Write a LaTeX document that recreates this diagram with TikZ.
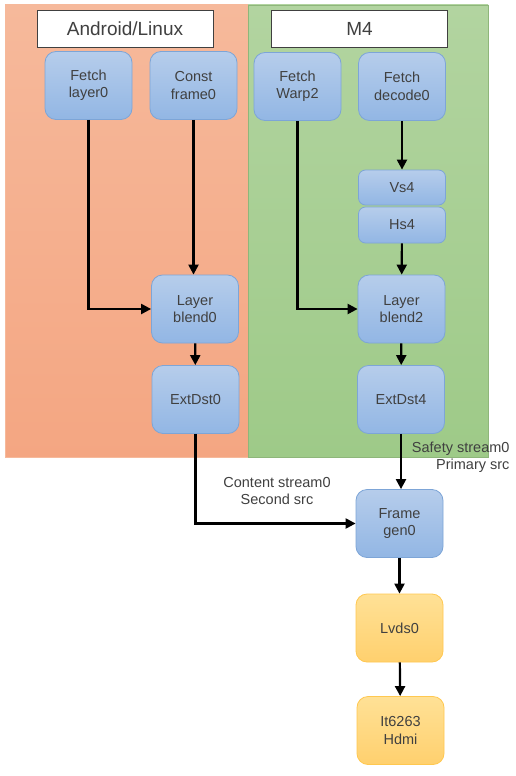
\documentclass[tikz,border=0pt]{standalone}
\usepackage{fontspec}
\setmainfont{Liberation Sans}
\usetikzlibrary{arrows.meta}
\definecolor{txtgray}{RGB}{64,64,64}
\definecolor{blueedge}{RGB}{125,165,215}
\definecolor{bluetop}{RGB}{182,205,235}
\definecolor{bluebot}{RGB}{146,182,228}
\definecolor{ambedge}{RGB}{255,200,80}
\definecolor{ambtop}{RGB}{255,225,150}
\definecolor{ambbot}{RGB}{255,208,110}
\definecolor{andtop}{RGB}{246,185,155}
\definecolor{andbot}{RGB}{244,166,130}
\definecolor{mtop}{RGB}{178,212,160}
\definecolor{mbot}{RGB}{158,202,136}
\begin{document}
\begin{tikzpicture}[x=1pt,y=-1pt,
  blk/.style={draw=blueedge,line width=0.8pt,rounded corners=11pt,top color=bluetop,bottom color=bluebot,
    minimum width=87pt,minimum height=68pt,align=center,text=txtgray,font=\fontsize{14.5}{17.5}\selectfont},
  thinblk/.style={blk,minimum height=36pt,rounded corners=7pt},
  outblk/.style={blk,draw=ambedge,top color=ambtop,bottom color=ambbot},
  hdr/.style={draw=black!75,line width=0.8pt,fill=white,minimum width=176pt,minimum height=37pt,
    text=txtgray,font=\fontsize{19}{22}\selectfont},
  lbl/.style={text=txtgray,font=\fontsize{14.5}{17}\selectfont},
  flow/.style={line width=2.2pt,-{Triangle[width=10pt,length=10pt]}}]
\useasboundingbox (0,0) rectangle (515,776);
\fill[white] (0,0) rectangle (515,776);
\shade[top color=andtop,bottom color=andbot,draw=andtop] (5,5) rectangle (248,457);
\shade[top color=mtop,bottom color=mbot,draw=mbot!90!black] (248,5) rectangle (488,457);
\node[hdr] (andhdr) at (125,28.5) {Android/Linux};
\node[hdr] (mhdr) at (359.5,28.5) {M4};
\node[blk] (fetchL) at (88.5,85.5) {Fetch\\layer0};
\node[blk] (constF) at (193.5,85.5) {Const\\frame0};
\node[blk] (fetchW) at (297.5,86.5) {Fetch\\Warp2};
\node[blk] (fetchD) at (402,86.5) {Fetch\\decode0};
\node[thinblk,minimum height=35pt] (vs) at (402,187.5) {Vs4};
\node[thinblk] (hs) at (402,225) {Hs4};
\node[blk] (blendA) at (195,309) {Layer\\blend0};
\node[blk] (blendB) at (401.5,309) {Layer\\blend2};
\node[blk] (extA) at (195.5,399.5) {ExtDst0};
\node[blk] (extB) at (401,399.5) {ExtDst4};
\node[blk] (frame) at (399.5,523.5) {Frame\\gen0};
\node[outblk] (lvds) at (399.5,628) {Lvds0};
\node[outblk] (hdmi) at (400.5,730.5) {It6263\\Hdmi};
\draw[flow] (fetchL.south) |- (blendA.west);
\draw[flow] (constF.south) -- (constF.south |- blendA.north);
\draw[flow] (fetchW.south) |- (blendB.west);
\draw[flow] (fetchD) -- (vs);
\draw[flow] (hs) -- (blendB);
\draw[flow] (blendA) -- (extA);
\draw[flow] (blendB) -- (extB);
\draw[flow] (extA.south) |- (frame.west);
\draw[flow] (extB) -- (extB |- frame.north);
\draw[flow] (frame) -- (lvds);
\draw[flow] (lvds) -- (hdmi);
\node[lbl,align=right,anchor=east] (safety) at (513,457.5) {Safety stream0\\Primary src};
\node[lbl,align=center] (content) at (277,491.5) {Content stream0\\Second src};
\end{tikzpicture}
\end{document}
